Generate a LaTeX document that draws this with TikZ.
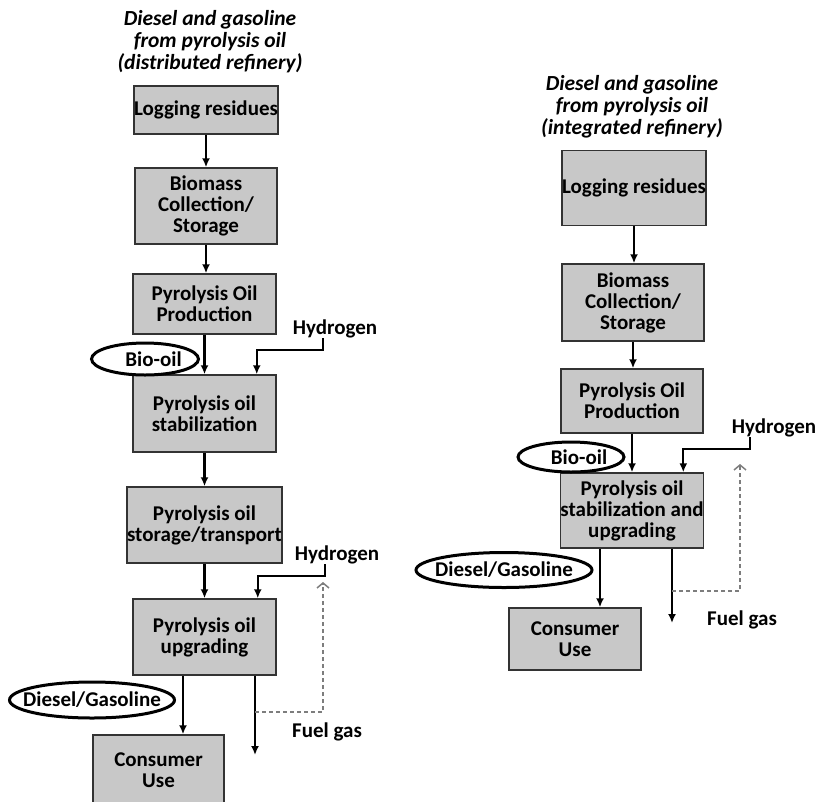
\documentclass[tikz,border=0pt]{standalone}
\usepackage{fontspec}
\setmainfont{Carlito}
\usepackage{xcolor}
\usetikzlibrary{arrows.meta}
\usetikzlibrary{shapes.geometric}
\definecolor{boxgray}{RGB}{200,200,200}
\definecolor{recyclegray}{RGB}{125,125,125}

\begin{document}
\begin{tikzpicture}[x=1pt, y=-1pt,
    every node/.style={font=\bfseries\fontsize{21}{21}\selectfont, align=center, inner sep=0pt},
    procbox/.style={draw=black!80, line width=1.5pt, fill=boxgray},
    stream/.style={ellipse, draw, line width=3pt, fill=white},
    heading/.style={font=\bfseries\itshape\fontsize{21.5}{22}\selectfont},
    flow/.style={line width=2.2pt, -{Latex[length=9pt,width=8pt]}},
    recycle/.style={recyclegray, line width=1.5pt, dash pattern=on 4pt off 3pt,
        -{Straight Barb[length=5pt,width=12pt]}}]
    \useasboundingbox (0,0) rectangle (816,801);

    % Headings
    \node[heading] (Lhead) at (210,42) {Diesel and gasoline\\from pyrolysis oil\\(distributed refinery)};
    \node[heading] (Rhead) at (632,107) {Diesel and gasoline\\from pyrolysis oil\\(integrated refinery)};

    % Distributed refinery
    \node[procbox, minimum width=140, minimum height=48] (L1) at (206,110) {Logging residues};
    \node[procbox, minimum width=142, minimum height=76] (L2) at (206,206) {Biomass\\Collection/\\Storage};
    \node[procbox, minimum width=143, minimum height=60] (L3) at (204.5,304) {Pyrolysis Oil\\Production};
    \node[procbox, minimum width=143, minimum height=77] (L4) at (204.5,413.5) {Pyrolysis oil\\stabilization};
    \node[procbox, minimum width=143, minimum height=76] (L5) at (204.5,525) {Pyrolysis oil\\storage/transport};
    \node[procbox, minimum width=143, minimum height=76] (L6) at (204.5,637) {Pyrolysis oil\\upgrading};
    \node[procbox, minimum width=131, minimum height=70] (L7) at (158.5,770) {Consumer\\Use};

    % Integrated refinery
    \node[procbox, minimum width=142, minimum height=75] (R1) at (634,188) {Logging residues};
    \node[procbox, minimum width=142, minimum height=77] (R2) at (633,302.5) {Biomass\\Collection/\\Storage};
    \node[procbox, minimum width=142, minimum height=64] (R3) at (632,401) {Pyrolysis Oil\\Production};
    \node[procbox, minimum width=142, minimum height=75] (R4) at (632,510.5) {Pyrolysis oil\\stabilization and\\upgrading};
    \node[procbox, minimum width=132, minimum height=62] (R5) at (575,639) {Consumer\\Use};

    % Streams
    \node[stream, minimum width=107, minimum height=32] (Lbio) at (145,359) {\makebox[0pt]{\hspace{17pt}Bio-oil}};
    \node[stream, minimum width=165, minimum height=36] (Lfuel) at (92,700) {\makebox[0pt]{Diesel/Gasoline}};
    \node[stream, minimum width=106, minimum height=30] (Rbio) at (571,457) {\makebox[0pt]{\hspace{16pt}Bio-oil}};
    \node[stream, minimum width=176, minimum height=35] (Rfuel) at (504,570) {\makebox[0pt]{Diesel/Gasoline}};

    % Side labels
    \node (Lh1) at (335,329) {Hydrogen};
    \node (Lh2) at (337,555) {Hydrogen};
    \node (Rh) at (774,428) {Hydrogen};
    \node (Lgas) at (327,732) {Fuel gas};
    \node (Rgas) at (742,620) {Fuel gas};

    % Main chain
    \foreach \a/\b in {L1/L2, L2/L3, L3/L4, L4/L5, L5/L6, R1/R2, R2/R3, R3/R4}
        \draw[flow] (\a.south) -- (\a.south |- \b.north);

    % Hydrogen feeds
    \draw[flow] ([xshift=-12pt]Lh1.south) -- ++(0,12) -| ([xshift=-20pt]L4.north east);
    \draw[flow] ([xshift=-12pt]Lh2.south) -- ++(0,12) -| ([xshift=-19pt]L6.north east);
    \draw[flow] ([xshift=-24pt]Rh.south) -- ++(0,12) -| ([xshift=-21pt]R4.north east);

    % Products
    \draw[flow] ([xshift=-21.5pt]L6.south) -- ([xshift=-21.5pt]L6.south |- L7.north);
    \draw[flow] ([xshift=-32pt]R4.south) -- ([xshift=-32pt]R4.south |- R5.north);

    % Fuel gas and recycle
    \coordinate (Lgasend) at (255,755);
    \coordinate (Lsplit) at (255,712);
    \coordinate (Lreturn) at (323,582);
    \draw[flow] (L6.south -| Lgasend) -- (Lgasend);
    \draw[recycle] (Lsplit) -| (Lreturn);

    \coordinate (Rgasend) at (672,623);
    \coordinate (Rsplit) at (672,591);
    \coordinate (Rreturn) at (740,464);
    \draw[flow] (R4.south -| Rgasend) -- (Rgasend);
    \draw[recycle] (Rsplit) -| (Rreturn);
\end{tikzpicture}
\end{document}
